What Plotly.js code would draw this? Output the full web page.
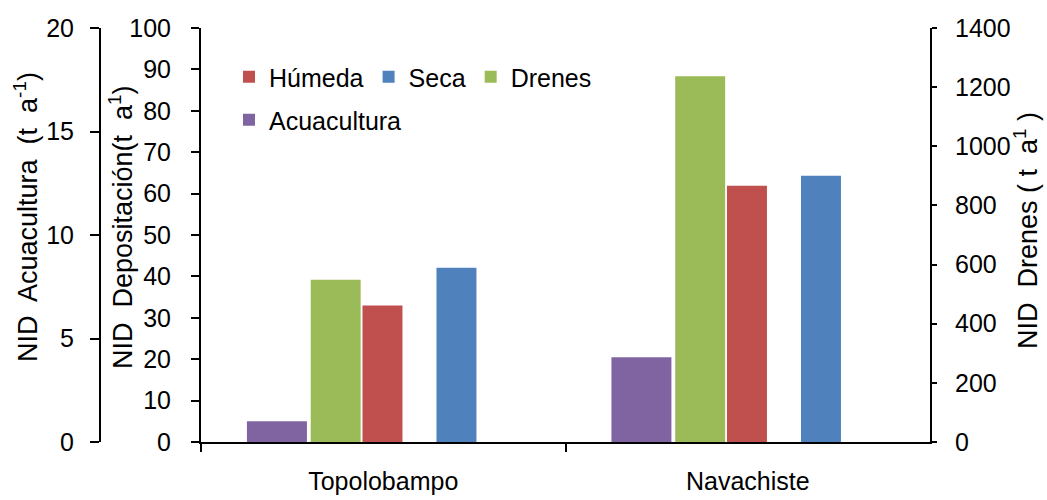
<!DOCTYPE html>
<html>
<head>
<meta charset="utf-8">
<script src="https://cdn.plot.ly/plotly-3.0.1.min.js"></script>
<style>html,body{margin:0;padding:0;background:#fff;}#chart{width:1047px;height:500px;}</style>
</head>
<body>
<div id="chart"></div>
<script>
const categories = ['Topolobampo', 'Navachiste'];
const humeda = [33.0, 61.9];       // NID Depositación, t a-1
const seca = [42.1, 64.3];         // NID Depositación, t a-1
const drenes = [549, 1237];        // NID Drenes, t a-1
const acuacultura = [1.0, 4.1];    // NID Acuacultura, t a-1
const seriesNames = ['Húmeda', 'Seca', 'Drenes', 'Acuacultura'];
const seriesColors = ['#C0504D', '#4F81BD', '#9BBB59', '#8064A2'];

const FONT = '"Liberation Sans", Arial, sans-serif';
const FS = 25;
const TFS = 27;

const traces = [
  {type:'bar', name:seriesNames[0], x:categories, y:humeda, yaxis:'y2', width:0.1097, offset:-0.057,
   marker:{color:seriesColors[0]}, legend:'legend'},
  {type:'bar', name:seriesNames[1], x:categories, y:seca, yaxis:'y2', width:0.1097, offset:0.146,
   marker:{color:seriesColors[1]}, legend:'legend'},
  {type:'bar', name:seriesNames[2], x:categories, y:drenes, yaxis:'y3', width:0.137, offset:-0.199,
   marker:{color:seriesColors[2]}, legend:'legend'},
  {type:'bar', name:seriesNames[3], x:categories, y:acuacultura, yaxis:'y', width:0.1646, offset:-0.374,
   marker:{color:seriesColors[3]}, legend:'legend2'}
];

const axisCommon = {showgrid:false, zeroline:false, showline:true, linecolor:'#000', linewidth:2,
  ticks:'outside', tickcolor:'#000', tickwidth:2, tickfont:{family:FONT, size:FS, color:'#000'}};

const layout = {
  width:1047, height:500,
  margin:{l:0, r:0, t:28, b:58},
  paper_bgcolor:'#fff', plot_bgcolor:'#fff',
  font:{family:FONT, size:FS, color:'#000'},
  barmode:'overlay',
  showlegend:true,
  xaxis:Object.assign({}, axisCommon, {type:'category', domain:[201/1047, 930/1047], range:[-0.5,1.5],
    tickson:'boundaries', ticklen:8, anchor:'y2', ticklabelstandoff:16}),
  yaxis:Object.assign({}, axisCommon, {range:[0,20], dtick:5, anchor:'free', position:100/1047, side:'left',
    ticklen:9, ticklabelstandoff:11}),
  yaxis2:Object.assign({}, axisCommon, {range:[0,100], dtick:10, overlaying:'y', anchor:'x', side:'left',
    ticklen:8, ticklabelstandoff:15}),
  yaxis3:Object.assign({}, axisCommon, {range:[0,1400], dtick:200, overlaying:'y', anchor:'x', side:'right',
    ticklen:5, ticklabelstandoff:13}),
  legend:{orientation:'h', x:229/1047, xanchor:'left', y:(442-77)/414, yanchor:'middle',
    bgcolor:'rgba(0,0,0,0)', font:{family:FONT, size:FS, color:'#000'}, traceorder:'normal'},
  legend2:{orientation:'h', x:229/1047, xanchor:'left', y:(442-120)/414, yanchor:'middle',
    bgcolor:'rgba(0,0,0,0)', font:{family:FONT, size:FS, color:'#000'}},
  annotations:[
    {text:'NID  Acuacultura  (t  a<sup>-1</sup>)', xref:'paper', yref:'paper', x:26/1047, y:(442-217)/414,
     xanchor:'center', yanchor:'middle', textangle:-90, showarrow:false, font:{family:FONT, size:TFS, color:'#000'}},
    {text:'NID  Depositación(t  a<sup>1</sup>)', xref:'paper', yref:'paper', x:121/1047, y:(442-227)/414,
     xanchor:'center', yanchor:'middle', textangle:-90, showarrow:false, font:{family:FONT, size:TFS, color:'#000'}},
    {text:'NID  Drenes ( t  a<sup>1</sup> )', xref:'paper', yref:'paper', x:1026/1047, y:(442-231)/414,
     xanchor:'center', yanchor:'middle', textangle:-90, showarrow:false, font:{family:FONT, size:TFS, color:'#000'}}
  ]
};

Plotly.newPlot('chart', traces, layout, {displayModeBar:false, staticPlot:true});
</script>
</body>
</html>
